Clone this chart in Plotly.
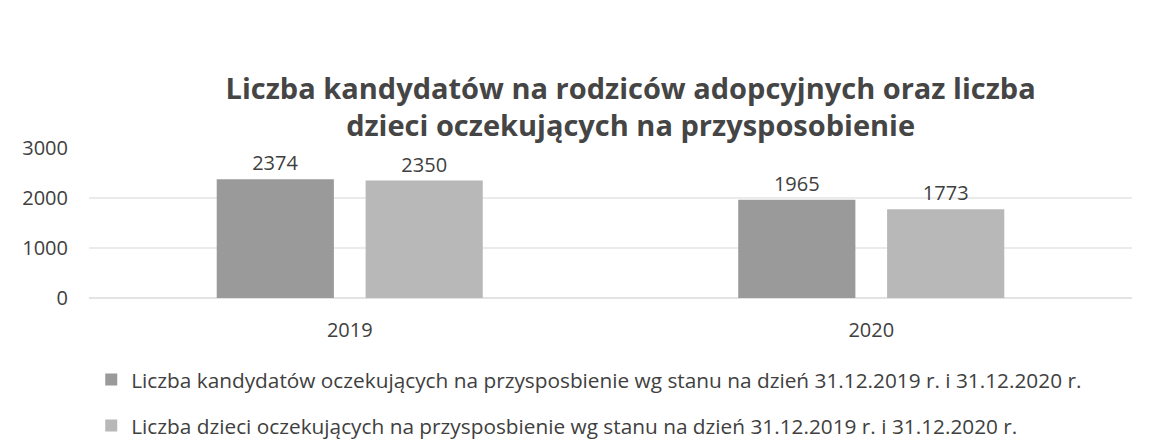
import plotly.graph_objects as go

years = ["2019", "2020"]
series_names = [
    "Liczba kandydatów oczekujących na przysposbienie wg stanu na dzień 31.12.2019 r. i 31.12.2020 r.",
    "Liczba dzieci oczekujących na przysposbienie wg stanu na dzień 31.12.2019 r. i 31.12.2020 r.",
]
candidates = [2374, 1965]
children = [2350, 1773]
colors = ["#9a9a9a", "#b8b8b8"]

fig = go.Figure()
for i, (name, vals) in enumerate(zip(series_names, [candidates, children])):
    fig.add_trace(go.Bar(
        x=years, y=vals, name=name,
        marker=dict(color=colors[i], line=dict(width=18, color="rgba(0,0,0,0)")),
        texttemplate="%{y}", textposition="outside",
        textfont=dict(size=20, color="#404040", family="Open Sans"),
        cliponaxis=False, legendgroup=f"g{i}",
    ))

fig.update_layout(
    width=1155, height=447,
    paper_bgcolor="white", plot_bgcolor="white",
    margin=dict(l=89, r=23, t=148, b=149, autoexpand=False),
    title=dict(
        text="<b>Liczba kandydatów na rodziców adopcyjnych oraz liczba<br>dzieci oczekujących na przysposobienie</b>",
        x=0.546, xanchor="center", y=0.779, yanchor="middle",
        font=dict(size=29, color="#454545", family="Open Sans"),
    ),
    barmode="group", bargap=0.429, bargroupgap=0.213,
    font=dict(family="Open Sans", color="#404040"),
    showlegend=True,
    legend=dict(
        orientation="v", xref="container", x=0.079, xanchor="left",
        yref="container", y=0.196, yanchor="top",
        font=dict(size=20.8, color="#404040"), tracegroupgap=16,
        itemwidth=30,
    ),
)
fig.update_xaxes(showgrid=False, showline=False, tickfont=dict(size=20, color="#404040"), ticks="",
                 automargin=False, ticklabelstandoff=18)
fig.update_yaxes(
    range=[0, 3000], tickvals=[0, 1000, 2000, 3000], showgrid=True, gridcolor="#ebebeb",
    gridwidth=2, zeroline=True, zerolinecolor="#e3e3e3", zerolinewidth=2,
    tickfont=dict(size=20, color="#404040"), ticklabelstandoff=20, ticks="", automargin=False,
)

fig.write_html("out.html", config={"displayModeBar": False},
               post_script="document.body.style.margin='0';")
